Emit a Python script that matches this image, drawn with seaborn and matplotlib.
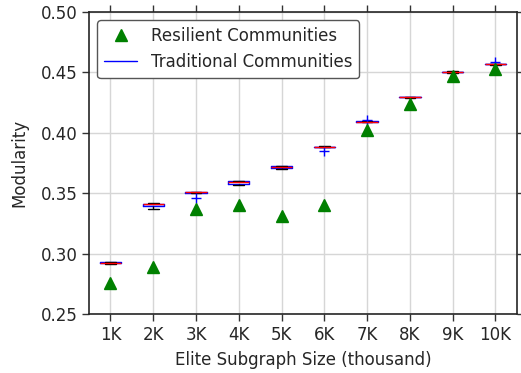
import pandas as pd
import matplotlib
matplotlib.use("Agg")
import matplotlib.pyplot as plt
from matplotlib.lines import Line2D
import seaborn as sns

# subgraph sizes
sizes = ['1K', '2K', '3K', '4K', '5K', '6K', '7K', '8K', '9K', '10K']

# resilient communities (one value per size)
resilient = [0.276, 0.289, 0.337, 0.340, 0.331, 0.340, 0.402, 0.424, 0.447, 0.453]

# traditional communities, several runs per size
trad_1k = [0.2918, 0.2922, 0.2925, 0.2928, 0.2931]
trad_2k = [0.3372, 0.3395, 0.3408, 0.3412, 0.3418]
trad_3k = [0.3462, 0.3505, 0.3508, 0.3510, 0.3512]
trad_4k = [0.3572, 0.3578, 0.3590, 0.3597, 0.3600]
trad_5k = [0.3702, 0.3706, 0.3718, 0.3725, 0.3728]
trad_6k = [0.3852, 0.3880, 0.3882, 0.3885, 0.3888]
trad_7k = [0.4088, 0.4091, 0.4093, 0.4095, 0.4106]
trad_8k = [0.4290, 0.4292, 0.4294, 0.4296, 0.4298]
trad_9k = [0.4496, 0.4500, 0.4503, 0.4505, 0.4510]
trad_10k = [0.4563, 0.4566, 0.4569, 0.4572, 0.4585]
traditional = [trad_1k, trad_2k, trad_3k, trad_4k, trad_5k,
               trad_6k, trad_7k, trad_8k, trad_9k, trad_10k]

rows = []
for s, vals in zip(sizes, traditional):
    for v in vals:
        rows.append({'Size': s, 'Modularity': v})
df_trad = pd.DataFrame(rows)
df_res = pd.DataFrame({'Size': sizes, 'Modularity': resilient})

sns.set_style("whitegrid")
plt.rcParams['font.family'] = ['DejaVu Sans']

fig = plt.figure(figsize=(5.21, 3.73), dpi=100)
ax = fig.add_axes([0.171, 0.158, 0.821, 0.810])

sns.boxplot(data=df_trad, x='Size', y='Modularity', order=sizes, width=0.5,
            fill=False, ax=ax, zorder=3,
            boxprops=dict(color='blue', linewidth=1),
            medianprops=dict(color='red', linewidth=1),
            whiskerprops=dict(color='black', linestyle='--', linewidth=1),
            capprops=dict(color='black', linewidth=1),
            flierprops=dict(marker='+', markeredgecolor='blue', markersize=7))

ax.plot(range(len(sizes)), df_res['Modularity'], '^', color='green',
        markersize=9, linestyle='none', zorder=4)

ax.set_xlim(-0.5, 9.5)
ax.set_ylim(0.25, 0.50)
ax.set_yticks([0.25, 0.30, 0.35, 0.40, 0.45, 0.50])
ax.set_yticklabels(['0.25', '0.30', '0.35', '0.40', '0.45', '0.50'])
ax.set_xlabel('Elite Subgraph Size (thousand)', fontsize=12, color='#262626', labelpad=5)
ax.set_ylabel('Modularity', fontsize=12, color='#262626', labelpad=9)
ax.tick_params(axis='both', which='both', direction='out', length=5, width=1,
               color='#333333', labelsize=12, labelcolor='#262626',
               top=True, right=True, bottom=True, left=True)
ax.grid(True, color='#d6d6d6', linewidth=1)
ax.set_axisbelow(True)
for sp in ax.spines.values():
    sp.set_color('#262626')
    sp.set_linewidth(1.2)

handles = [Line2D([], [], marker='^', color='green', linestyle='none', markersize=9),
           Line2D([], [], color='blue', linewidth=1)]
leg = ax.legend(handles, ['Resilient Communities', 'Traditional Communities'],
                loc='upper left', fontsize=12, frameon=True, fancybox=True,
                bbox_to_anchor=(0.0, 1.0), borderaxespad=0.5)
leg.get_frame().set_edgecolor('#555555')
leg.get_frame().set_alpha(1)

fig.savefig('out.png', dpi=100)
